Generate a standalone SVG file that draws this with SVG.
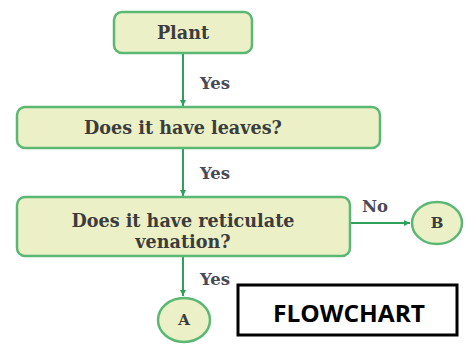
<svg xmlns="http://www.w3.org/2000/svg" width="466" height="345" viewBox="0 0 466 345">
<defs>
<marker id="ah" viewBox="0 0 10 10" refX="10" refY="5" markerWidth="6" markerHeight="6" orient="auto" markerUnits="userSpaceOnUse">
<path d="M0,0 L10,5 L0,10 z" fill="#2fa05c"/>
</marker>
<style>
.box{fill:#ebf0c6;stroke:#5bb774;stroke-width:2.5}
.t{font-family:"DejaVu Serif",serif;font-weight:bold;font-size:17.6px;fill:#3c3c3c;text-anchor:middle}
.n{font-family:"DejaVu Serif",serif;font-weight:bold;font-size:15px;fill:#3c3c3c;text-anchor:middle}
.lbl{font-family:"DejaVu Serif",serif;font-weight:bold;font-size:16.5px;fill:#4a4a55}
.c{stroke:#2fa05c;stroke-width:2;fill:none}
</style>
</defs>
<rect width="466" height="345" fill="#ffffff"/>
<g id="connectors">
<line class="c" x1="183" y1="53" x2="183" y2="106" marker-end="url(#ah)"/>
<line class="c" x1="183" y1="148" x2="183" y2="196" marker-end="url(#ah)"/>
<line class="c" x1="350" y1="223" x2="410" y2="223" marker-end="url(#ah)"/>
<line class="c" x1="183" y1="256" x2="183" y2="296" marker-end="url(#ah)"/>
<text class="lbl" x="200" y="89">Yes</text>
<text class="lbl" x="200" y="179">Yes</text>
<text class="lbl" x="362" y="212">No</text>
<text class="lbl" x="200" y="285">Yes</text>
</g>
<g id="plant">
<rect class="box" x="114" y="12" width="138" height="41" rx="8"/>
<text class="t" x="183" y="39">Plant</text>
</g>
<g id="leaves">
<rect class="box" x="17" y="107" width="363" height="41" rx="8"/>
<text class="t" x="183" y="134">Does it have leaves?</text>
</g>
<g id="reticulate">
<rect class="box" x="17" y="197" width="333" height="59" rx="8"/>
<text class="t" x="183" y="227">Does it have reticulate</text>
<text class="t" x="183" y="248">venation?</text>
</g>
<g id="nodeB">
<ellipse class="box" cx="437" cy="223" rx="25" ry="21"/>
<text class="n" x="437" y="228">B</text>
</g>
<g id="nodeA">
<ellipse class="box" cx="184" cy="320" rx="26" ry="22"/>
<text class="n" x="184" y="325">A</text>
</g>
<g id="title">
<rect x="238" y="285" width="219" height="50" fill="#ffffff" stroke="#000000" stroke-width="3"/>
<text x="349" y="322" font-family="'Open Sans','Liberation Sans',sans-serif" font-weight="bold" font-size="24" text-anchor="middle" fill="#000000" textLength="152" lengthAdjust="spacingAndGlyphs">FLOWCHART</text>
</g>
</svg>
